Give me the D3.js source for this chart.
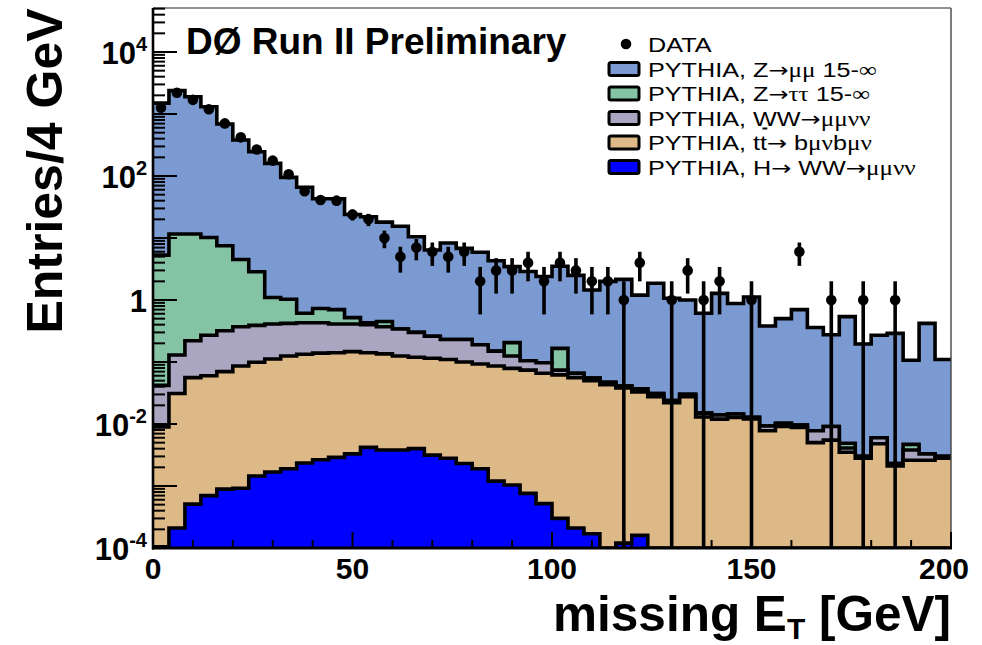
<!DOCTYPE html>
<html><head><meta charset="utf-8">
<script src="https://cdn.jsdelivr.net/npm/d3@7"></script>
<style>
body{margin:0;background:#fff}
svg{display:block}
text{font-family:"Liberation Sans",Arial,Helvetica,sans-serif}
</style>
</head><body>
<svg id="c" width="982" height="645"></svg>
<script>
// ---------------- data (50 bins of 4 GeV, 0-200 GeV) ----------------
const binWidth = 4;
const binLow = d3.range(0, 200, binWidth);

// observed events per bin
const dataCounts = [1260,2200,1690,1190,705,420,268,177,107,57,
  41,40,24,20,10,5,7,6,5,6,
  2,3,3,4,2,4,3,2,2,1,
  4,0,1,3,1,2,0,1,0,0,
  6,0,1,0,1,0,1,0,0,0];

// stacked MC levels (cumulative tops as drawn by the THStack)
const stackZmumu = [1500,2380,1900,1310,690,380,246,160,95,66,
  43,43,24,22,18,15.5,10.5,6.4,8.3,6.8,
  5.9,4.3,3.45,2.88,2.4,3.5,2.5,1.45,2.0,2.15,
  1.2,1.86,1.07,1.0,0.61,1.28,0.88,1.12,0.38,0.5,
  0.7,0.36,0.275,0.54,0.195,0.27,0.29,0.107,0.42,0.11];
const stackZtautau = [5.3,11.6,11.6,10.2,7.5,4.5,2.86,1.1,1.03,0.61,
  0.73,0.70,0.52,0.43,0.45,0.34,0.30,0.26,0.23,0.23,
  0.19,0.15,0.205,0.105,0.097,0.166,0.066,0.055,0.047,0.041,
  0.037,0.031,0.024,0.030,0.015,0.014,0.0145,0.0128,0.0093,0.0103,
  0.0096,0.0078,0.0091,0.0049,0.0030,0.0060,0.0023,0.0047,0.0033,0.0030];
const stackWW = [0.042,0.13,0.22,0.27,0.32,0.37,0.39,0.41,0.42,0.43,
  0.43,0.41,0.41,0.40,0.37,0.34,0.30,0.26,0.23,0.23,
  0.19,0.15,0.125,0.105,0.097,0.074,0.066,0.055,0.047,0.041,
  0.037,0.031,0.024,0.030,0.015,0.014,0.0145,0.0128,0.0093,0.0103,
  0.0096,0.0078,0.0091,0.0041,0.0030,0.0060,0.0023,0.0038,0.0033,0.0030];
const stackTTbar = [0.009,0.031,0.056,0.060,0.070,0.086,0.099,0.112,0.125,0.133,
  0.139,0.141,0.147,0.141,0.135,0.125,0.119,0.115,0.11,0.10,
  0.093,0.086,0.079,0.074,0.066,0.062,0.056,0.050,0.043,0.038,
  0.033,0.0275,0.022,0.0275,0.013,0.012,0.0128,0.0121,0.0078,0.0091,
  0.0088,0.0050,0.0055,0.0035,0.0028,0.0048,0.0021,0.0026,0.0026,0.0028];
const stackHiggs = [1.05e-4,2.1e-4,5.1e-4,7.0e-4,8.9e-4,9.2e-4,1.45e-3,1.68e-3,1.9e-3,2.35e-3,
  2.65e-3,2.9e-3,3.3e-3,4.2e-3,3.8e-3,3.8e-3,4.0e-3,3.15e-3,2.8e-3,2.3e-3,
  1.9e-3,1.2e-3,1.04e-3,7.6e-4,5.2e-4,3.0e-4,2.1e-4,1.7e-4,0,1.2e-4,
  1.6e-4,0,0,0,0,0,0,0,0,0,
  0,0,0,0,0,0,0,0,0,0];

const xTickValues = [0,50,100,150,200];
const yLabelExponents = [4,2,0,-2,-4];

const legendEntries = [
  {key:"data", parts:[["DATA","s"]]},
  {key:"zmm", color:"#7b9ad1", parts:[["PYTHIA, Z","s"],["\u2192","a"],["\u03bc\u03bc","g"],[" 15-","s"],["\u221e","g"]]},
  {key:"ztt", color:"#85c3a5", parts:[["PYTHIA, Z","s"],["\u2192","a"],["\u03c4\u03c4","g"],[" 15-","s"],["\u221e","g"]]},
  {key:"ww",  color:"#aaa6c1", parts:[["PYTHIA, ","s"],["W","s"],["W","s"],["\u2192","a"],["\u03bc\u03bc\u03bd\u03bd","g"]]},
  {key:"tt",  color:"#ddb987", parts:[["PYTHIA, tt","s"],["\u2192","a"],[" b","s"],["\u03bc\u03bd","g"],["b","s"],["\u03bc\u03bd","g"]]},
  {key:"h",   color:"#0000ff", parts:[["PYTHIA, H","s"],["\u2192","a"],[" WW","s"],["\u2192","a"],["\u03bc\u03bc\u03bd\u03bd","g"]]}
];

// ---------------- layout ----------------
const svg = d3.select("#c");
const L = 153, R = 951, T = 8, B = 548;
const yMin = 1e-4, yMax = Math.pow(10, (B - T) / 62 - 4);
const x = d3.scaleLinear().domain([0, 200]).range([L, R]);
const y = d3.scaleLog().domain([yMin, yMax]).range([B, T]).clamp(true);
const yv = v => y(Math.max(v, yMin));

svg.append("defs").append("clipPath").attr("id","plot")
  .append("rect").attr("x",L).attr("y",T).attr("width",R-L).attr("height",B-T);
const plot = svg.append("g").attr("clip-path","url(#plot)");

function stepPts(vals){
  const pts = [];
  vals.forEach((v,i)=>{ pts.push([x(binLow[i]), yv(v)]); pts.push([x(binLow[i]+binWidth), yv(v)]); });
  return pts;
}
const area = d3.area().x(d=>d[0]).y0(B).y1(d=>d[1]);
const line = d3.line();

const layers = [
  {vals:stackZmumu, color:"#7b9ad1"},
  {vals:stackZtautau, color:"#85c3a5"},
  {vals:stackWW, color:"#aaa6c1"},
  {vals:stackTTbar, color:"#ddb987"},
  {vals:stackHiggs, color:"#0000ff"}
];
layers.forEach(l=>{
  const pts = stepPts(l.vals);
  plot.append("path").attr("d", area(pts)).attr("fill", l.color);
  plot.append("path").attr("d", line(pts)).attr("fill","none")
    .attr("stroke","#000").attr("stroke-width",3.6).attr("stroke-linejoin","miter");
});

// data points with sqrt(N) errors
const pts = dataCounts.map((n,i)=>({x:binLow[i]+binWidth/2, n})).filter(d=>d.n>0);
plot.selectAll("line.err").data(pts).join("line").attr("class","err")
  .attr("x1",d=>x(d.x)).attr("x2",d=>x(d.x))
  .attr("y1",d=>yv(d.n+Math.sqrt(d.n))).attr("y2",d=>yv(d.n-Math.sqrt(d.n)))
  .attr("stroke","#000").attr("stroke-width",3.6);
plot.selectAll("circle.pt").data(pts).join("circle").attr("class","pt")
  .attr("cx",d=>x(d.x)).attr("cy",d=>yv(d.n)).attr("r",5.3).attr("fill","#000");

// ---------------- frame & axes ----------------
const axg = svg.append("g");
axg.append("line").attr("x1",L).attr("x2",R).attr("y1",T).attr("y2",T).attr("stroke","#222").attr("stroke-width",1.2);
axg.append("line").attr("x1",R).attr("x2",R).attr("y1",T).attr("y2",B).attr("stroke","#444").attr("stroke-width",1.4);
const yMajor = d3.range(-4, 5).map(e=>Math.pow(10,e));
const yMinor = [];
for (let e=-4;e<=4;e++) for (let k=2;k<=9;k++){ const v=k*Math.pow(10,e); if(v<=yMax) yMinor.push(v); }
axg.selectAll("line.ymaj").data(yMajor).join("line").attr("class","ymaj")
  .attr("x1",L).attr("x2",L+24).attr("y1",d=>y(d)).attr("y2",d=>y(d)).attr("stroke","#000").attr("stroke-width",2);
axg.selectAll("line.ymin").data(yMinor).join("line").attr("class","ymin")
  .attr("x1",L).attr("x2",L+12).attr("y1",d=>y(d)).attr("y2",d=>y(d)).attr("stroke","#000").attr("stroke-width",2);
const xMinor = d3.range(0, 201, 10).filter(v=>v%50!==0);
axg.selectAll("line.xmaj").data(xTickValues).join("line").attr("class","xmaj")
  .attr("x1",d=>x(d)).attr("x2",d=>x(d)).attr("y1",B).attr("y2",B-16).attr("stroke","#000").attr("stroke-width",2);
axg.selectAll("line.xmin").data(xMinor).join("line").attr("class","xmin")
  .attr("x1",d=>x(d)).attr("x2",d=>x(d)).attr("y1",B).attr("y2",B-8).attr("stroke","#000").attr("stroke-width",2);
axg.append("line").attr("x1",L).attr("x2",L).attr("y1",T).attr("y2",B+1.5).attr("stroke","#000").attr("stroke-width",2.6);
axg.append("line").attr("x1",L-1).attr("x2",R+1).attr("y1",B).attr("y2",B).attr("stroke","#000").attr("stroke-width",3);

// y labels
yLabelExponents.forEach(e=>{
  const t = axg.append("text").attr("x",147).attr("y",y(Math.pow(10,e))+12)
    .attr("text-anchor","end").attr("font-weight","bold").attr("font-size",31);
  if (e===0){ t.text("1"); }
  else {
    t.append("tspan").text("10");
    t.append("tspan").attr("dy",-13).attr("font-size",20).text(String(e));
  }
});
// x labels
xTickValues.forEach(v=>{
  axg.append("text").attr("x",x(v) - (v===200?7:0)).attr("y",579).attr("text-anchor","middle")
    .attr("font-weight","bold").attr("font-size",30).text(v);
});

// axis titles
const xt = svg.append("text").attr("x",951).attr("y",631).attr("text-anchor","end")
  .attr("font-weight","bold").attr("font-size",49.5);
xt.append("tspan").text("missing E");
xt.append("tspan").attr("font-size",30).attr("dy",8).text("T");
xt.append("tspan").attr("dy",-8).text(" [GeV]");

svg.append("text").attr("transform","translate(62,171) rotate(-90)").attr("text-anchor","middle")
  .attr("font-weight","bold").attr("font-size",50).text("Entries/4 GeV");

// title
svg.append("text").attr("x",186).attr("y",54).attr("font-weight","bold").attr("font-size",37)
  .text("D\u00d8 Run II Preliminary");

// ---------------- legend ----------------
const lg = svg.append("g");
const rowY = [44, 69, 93.5, 118, 142.5, 167];
const fam = {s:null, g:"'Liberation Serif','DejaVu Serif',serif", a:"'DejaVu Sans',sans-serif"};
legendEntries.forEach((e,i)=>{
  const cy = rowY[i];
  if (e.key==="data"){
    lg.append("circle").attr("cx",626).attr("cy",cy).attr("r",5.3).attr("fill","#000");
  } else {
    lg.append("rect").attr("x",609).attr("y",cy-6.5).attr("width",30).attr("height",13)
      .attr("rx",2).attr("fill",e.color).attr("stroke","#000").attr("stroke-width",3);
  }
  const g = lg.append("g").attr("transform",`translate(648,${cy}) scale(1.2,1)`);
  const t = g.append("text").attr("x",0).attr("y",7.5).attr("font-size",21);
  e.parts.forEach(p=>{
    const s = t.append("tspan").text(p[0]);
    if (fam[p[1]]) s.attr("font-family", fam[p[1]]);
    if (p[1]==="a") s.attr("font-size",20);
  });
  if (e.key==="ww"){
    // small bar artefact below the first W, as in the original
    const n = "PYTHIA, ".length;
    const ext = t.node().getExtentOfChar(n);
    const cx = ext.x + ext.width/2;
    g.append("line").attr("x1",cx-2).attr("x2",cx+2).attr("y1",10.5).attr("y2",10.5)
      .attr("stroke","#000").attr("stroke-width",2);
  }
});
</script>
</body></html>
